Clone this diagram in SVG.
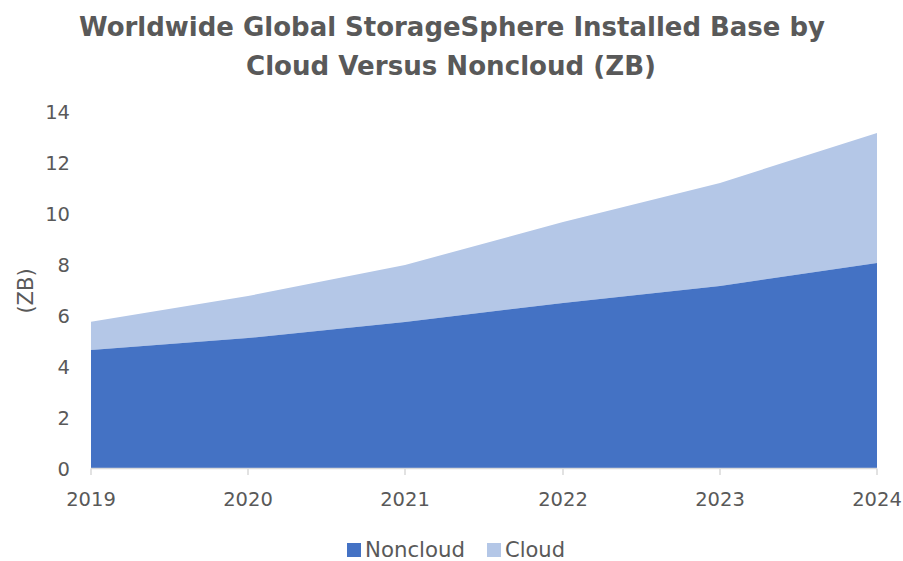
<svg xmlns="http://www.w3.org/2000/svg" width="903" height="561" viewBox="0 0 903 561">
<style>
.t{font-family:"DejaVu Sans","Liberation Sans",sans-serif;fill:#595959}
.title{font-weight:bold;font-size:26px;text-anchor:middle}
.ax{font-size:19.5px}
.lg{font-size:21px}
.yl{text-anchor:end}
.xl{text-anchor:middle}
.grid{stroke:#D9D9D9;stroke-width:1.5;fill:none}
</style>
<rect width="903" height="561" fill="#ffffff"/>
<g id="title">
<text class="t title" x="452" y="36" textLength="746" lengthAdjust="spacingAndGlyphs">Worldwide Global StorageSphere Installed Base by</text>
<text class="t title" x="451" y="75" textLength="410" lengthAdjust="spacingAndGlyphs">Cloud Versus Noncloud (ZB)</text>
</g>
<g id="areas">
<polygon id="cloud" fill="#B4C7E7" points="91,321.7 248,296 405,265 563,222 720,183 877,133 877,263 720,286 563,303 405,322 248,338 91,350"/>
<polygon id="noncloud" fill="#4472C4" points="91,350 248,338 405,322 563,303 720,286 877,263 877,468 91,468"/>
</g>
<g id="axis">
<path class="grid" d="M91,468.5 H877 M91,468.5 V475 M248,468.5 V475 M405,468.5 V475 M563,468.5 V475 M720,468.5 V475 M877,468.5 V475"/>
</g>
<g id="ylabels" class="t ax yl">
<text x="70" y="476">0</text>
<text x="70" y="425">2</text>
<text x="70" y="374">4</text>
<text x="70" y="323">6</text>
<text x="70" y="272">8</text>
<text x="70" y="221">10</text>
<text x="70" y="170">12</text>
<text x="70" y="119">14</text>
</g>
<g id="xlabels" class="t ax xl">
<text x="91" y="506">2019</text>
<text x="248" y="506">2020</text>
<text x="405" y="506">2021</text>
<text x="563" y="506">2022</text>
<text x="720" y="506">2023</text>
<text x="877" y="506">2024</text>
</g>
<text class="t lg" x="0" y="0" text-anchor="middle" transform="translate(33,291) rotate(-90)">(ZB)</text>
<g id="legend">
<rect x="347" y="543" width="14" height="14" fill="#4472C4"/>
<text class="t lg" x="365" y="556.5" textLength="100" lengthAdjust="spacingAndGlyphs">Noncloud</text>
<rect x="487" y="543" width="14" height="14" fill="#B4C7E7"/>
<text class="t lg" x="505" y="556.5" textLength="60" lengthAdjust="spacingAndGlyphs">Cloud</text>
</g>
</svg>
